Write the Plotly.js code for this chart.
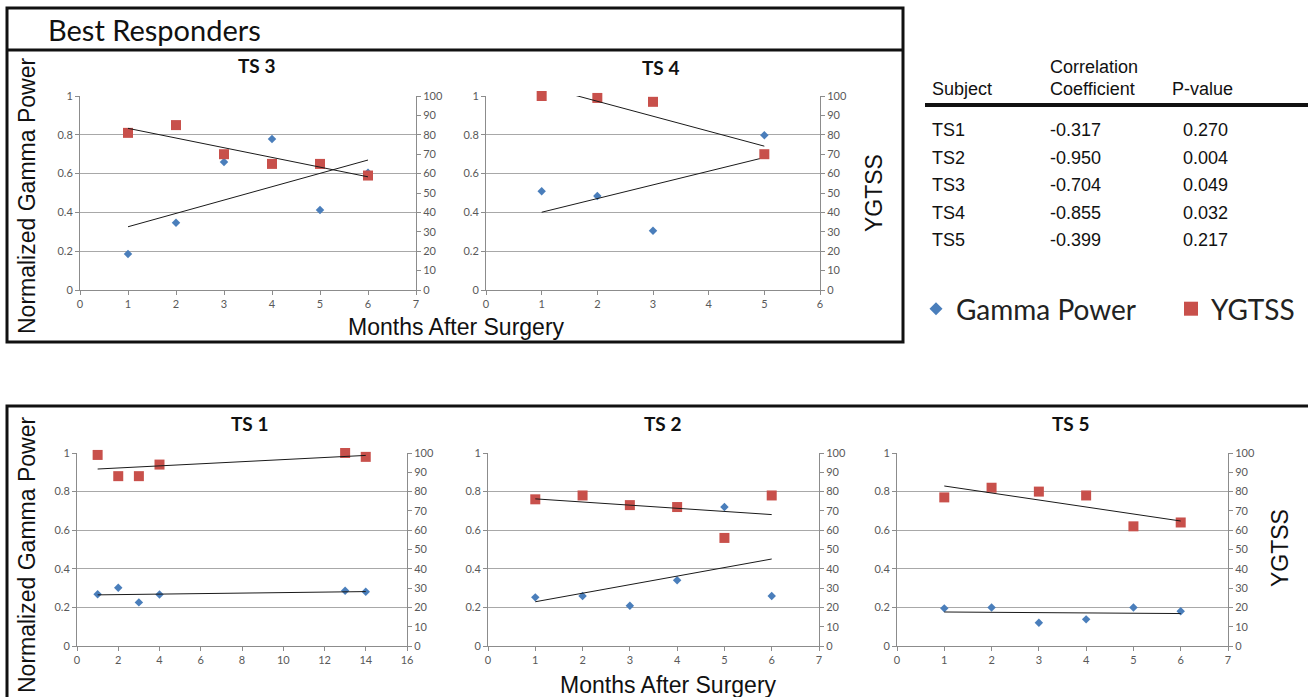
<!DOCTYPE html>
<html>
<head>
<meta charset="utf-8">
<script src="https://cdn.plot.ly/plotly-3.0.1.min.js"></script>
<style>html,body{margin:0;padding:0;background:#fff;}#chart{width:1308px;height:697px;}</style>
</head>
<body>
<div id="chart"></div>
<script>
// ---------- DATA ----------
const ts3Months = [1, 2, 3, 4, 5, 6];
const ts3Gamma  = [0.186, 0.347, 0.66, 0.778, 0.412, 0.605];
const ts3Ygtss  = [81, 85, 70, 65, 65, 59];

const ts4Months = [1, 2, 3, 5];
const ts4Gamma  = [0.509, 0.485, 0.305, 0.798];
const ts4Ygtss  = [100, 99, 97, 70];

const ts1Months = [1, 2, 3, 4, 13, 14];
const ts1Gamma  = [0.268, 0.302, 0.226, 0.267, 0.286, 0.281];
const ts1Ygtss  = [99, 88, 88, 94, 100, 98];

const ts2Months = [1, 2, 3, 4, 5, 6];
const ts2Gamma  = [0.252, 0.259, 0.209, 0.341, 0.72, 0.259];
const ts2Ygtss  = [76, 78, 73, 72, 56, 78];

const ts5Months = [1, 2, 3, 4, 5, 6];
const ts5Gamma  = [0.195, 0.2, 0.12, 0.138, 0.2, 0.18];
const ts5Ygtss  = [77, 82, 80, 78, 62, 64];

const subjectLabels = ['TS1', 'TS2', 'TS3', 'TS4', 'TS5'];
const corrCoefs     = ['-0.317', '-0.950', '-0.704', '-0.855', '-0.399'];
const pValues       = ['0.270', '0.004', '0.049', '0.032', '0.217'];

const gammaTicks = [0, 0.2, 0.4, 0.6, 0.8, 1];

// ---------- LAYOUT HELPERS ----------
const W = 1308, H = 697;
const px = v => v / W;
const py = v => 1 - v / H;

const BLUE = '#4A7EBB';
const RED = '#C8504B';
const AXC = '#8c8c8c';
const GRID = '#a8a8a8';
const TICKFONT = {family: 'Lato, sans-serif', size: 11, color: '#595959'};
const CAL = 'Lato, sans-serif';
const ARIAL = '"Liberation Sans", Arial, sans-serif';

const panels = [
  {title: 'TS 3', months: ts3Months, gamma: ts3Gamma, ygtss: ts3Ygtss, xmax: 7, xdt: 1, box: [80, 416, 96, 290], tx: 256, ty: 65},
  {title: 'TS 4', months: ts4Months, gamma: ts4Gamma, ygtss: ts4Ygtss, xmax: 6, xdt: 1, box: [486, 820, 96, 290], tx: 660, ty: 67},
  {title: 'TS 1', months: ts1Months, gamma: ts1Gamma, ygtss: ts1Ygtss, xmax: 16, xdt: 2, box: [77, 407, 453, 646], tx: 249, ty: 424},
  {title: 'TS 2', months: ts2Months, gamma: ts2Gamma, ygtss: ts2Ygtss, xmax: 7, xdt: 1, box: [488, 819, 453, 646], tx: 662, ty: 424},
  {title: 'TS 5', months: ts5Months, gamma: ts5Gamma, ygtss: ts5Ygtss, xmax: 7, xdt: 1, box: [897, 1228, 453, 646], tx: 1070, ty: 424}
];

function linFit(xs, ys) {
  const n = xs.length;
  const mx = xs.reduce((a, b) => a + b, 0) / n;
  const my = ys.reduce((a, b) => a + b, 0) / n;
  let sxy = 0, sxx = 0;
  for (let i = 0; i < n; i++) { sxy += (xs[i] - mx) * (ys[i] - my); sxx += (xs[i] - mx) ** 2; }
  const b = sxy / sxx, a = my - b * mx;
  const x0 = Math.min(...xs), x1 = Math.max(...xs);
  return {x: [x0, x1], y: [a + b * x0, a + b * x1]};
}

const traces = [];
const legendStyle = {
  orientation: 'h', yanchor: 'top', xanchor: 'left',
  font: {family: CAL, size: 28, color: '#222'}, bgcolor: 'rgba(0,0,0,0)',
  itemclick: false, itemdoubleclick: false
};
const layout = {
  width: W, height: H,
  margin: {l: 0, r: 0, t: 0, b: 0, autoexpand: false},
  paper_bgcolor: '#fff', plot_bgcolor: 'rgba(0,0,0,0)',
  showlegend: true,
  legend: Object.assign({x: px(916), y: py(284)}, legendStyle),
  legend2: Object.assign({x: px(1171), y: py(284)}, legendStyle),
  shapes: [], annotations: []
};

panels.forEach((p, i) => {
  const k = i + 1;
  const xa = k === 1 ? 'x' : 'x' + k;
  const yP = (2 * k - 1) === 1 ? 'y' : 'y' + (2 * k - 1);
  const yS = 'y' + (2 * k);
  const xKey = k === 1 ? 'xaxis' : 'xaxis' + k;
  const yPKey = (2 * k - 1) === 1 ? 'yaxis' : 'yaxis' + (2 * k - 1);
  const ySKey = 'yaxis' + (2 * k);
  const [x0, x1, y0, y1] = p.box;

  layout[xKey] = {
    domain: [px(x0), px(x1)], anchor: yP, range: [0, p.xmax], dtick: p.xdt, tick0: 0,
    showline: true, linecolor: AXC, linewidth: 1, ticks: 'outside', ticklen: 4, tickcolor: AXC,
    showgrid: false, zeroline: false, tickfont: TICKFONT, fixedrange: true
  };
  layout[yPKey] = {
    domain: [py(y1), py(y0)], anchor: xa, range: [0, 1], tickvals: gammaTicks,
    showline: true, linecolor: AXC, linewidth: 1, ticks: 'outside', ticklen: 4, tickcolor: AXC,
    showgrid: true, gridcolor: GRID, gridwidth: 1, zeroline: false, tickfont: TICKFONT, fixedrange: true
  };
  layout[ySKey] = {
    domain: [py(y1), py(y0)], anchor: xa, overlaying: yP, side: 'right', range: [0, 100], dtick: 10, tick0: 0,
    showline: true, linecolor: AXC, linewidth: 1, ticks: 'outside', ticklen: 4, tickcolor: AXC,
    showgrid: false, zeroline: false, tickfont: TICKFONT, fixedrange: true
  };

  const gFit = linFit(p.months, p.gamma);
  const yFit = linFit(p.months, p.ygtss);

  traces.push({type: 'scatter', mode: 'markers', x: p.months, y: p.gamma, xaxis: xa, yaxis: yP,
    marker: {symbol: 'diamond', size: 6.5, color: BLUE}, cliponaxis: false, showlegend: false, hoverinfo: 'skip'});
  traces.push({type: 'scatter', mode: 'lines', x: gFit.x, y: gFit.y, xaxis: xa, yaxis: yP,
    line: {color: '#1a1a1a', width: 1}, showlegend: false, hoverinfo: 'skip'});
  traces.push({type: 'scatter', mode: 'markers', x: p.months, y: p.ygtss, xaxis: xa, yaxis: yS,
    marker: {symbol: 'square', size: 10, color: RED}, cliponaxis: false, showlegend: false, hoverinfo: 'skip'});
  traces.push({type: 'scatter', mode: 'lines', x: yFit.x, y: yFit.y, xaxis: xa, yaxis: yS,
    line: {color: '#1a1a1a', width: 1}, showlegend: false, hoverinfo: 'skip'});

  layout.annotations.push({xref: 'paper', yref: 'paper', x: px(p.tx), y: py(p.ty), text: '<b>' + p.title + '</b>',
    showarrow: false, xanchor: 'center', yanchor: 'middle', font: {family: CAL, size: 19, color: '#111'}});
});

// legend-only entries
traces.push({type: 'scatter', mode: 'markers', x: [null], y: [null], xaxis: 'x', yaxis: 'y', name: 'Gamma Power',
  marker: {symbol: 'diamond', size: 10, color: BLUE}, showlegend: true, legend: 'legend', hoverinfo: 'skip'});
traces.push({type: 'scatter', mode: 'markers', x: [null], y: [null], xaxis: 'x', yaxis: 'y2', name: 'YGTSS',
  marker: {symbol: 'square', size: 14, color: RED}, showlegend: true, legend: 'legend2', hoverinfo: 'skip'});

// frames
const LINE = {color: '#111', width: 3};
layout.shapes.push({type: 'rect', xref: 'paper', yref: 'paper', x0: px(7), x1: px(903), y0: py(342), y1: py(8), line: LINE});
layout.shapes.push({type: 'line', xref: 'paper', yref: 'paper', x0: px(7), x1: px(903), y0: py(50), y1: py(50), line: LINE});
layout.shapes.push({type: 'rect', xref: 'paper', yref: 'paper', x0: px(7), x1: px(1320), y0: py(710), y1: py(406), line: LINE});
layout.shapes.push({type: 'line', xref: 'paper', yref: 'paper', x0: px(925), x1: px(1308), y0: py(105), y1: py(105), line: {color: '#111', width: 4}});

// titles
const ann = (text, x, y, size, family, opts) => Object.assign({xref: 'paper', yref: 'paper', x: px(x), y: py(y), text: text,
  showarrow: false, font: {family: family, size: size, color: '#111'}, xanchor: 'center', yanchor: 'middle'}, opts || {});

layout.annotations.push(ann('Best Responders', 46, 29, 29, CAL, {xanchor: 'left'}));
layout.annotations.push(ann('Normalized Gamma Power', 27, 196, 23, ARIAL, {textangle: -90}));
layout.annotations.push(ann('Normalized Gamma Power', 27, 555, 23, ARIAL, {textangle: -90}));
layout.annotations.push(ann('Months After Surgery', 456, 327, 23, ARIAL));
layout.annotations.push(ann('Months After Surgery', 668, 685, 23, ARIAL));
layout.annotations.push(ann('YGTSS', 874, 193, 23, ARIAL, {textangle: -90}));
layout.annotations.push(ann('YGTSS', 1280, 548, 23, ARIAL, {textangle: -90}));

// table
const TF = 18;
layout.annotations.push(ann('Correlation', 1048, 67, TF, ARIAL, {xanchor: 'left'}));
layout.annotations.push(ann('Subject', 930, 89, TF, ARIAL, {xanchor: 'left'}));
layout.annotations.push(ann('Coefficient', 1048, 89, TF, ARIAL, {xanchor: 'left'}));
layout.annotations.push(ann('P-value', 1170, 89, TF, ARIAL, {xanchor: 'left'}));
const rowY = [130, 157.5, 185, 212.5, 240];
subjectLabels.forEach((s, i) => {
  layout.annotations.push(ann(s, 930, rowY[i], TF, ARIAL, {xanchor: 'left'}));
  layout.annotations.push(ann(corrCoefs[i], 1048, rowY[i], TF, ARIAL, {xanchor: 'left'}));
  layout.annotations.push(ann(pValues[i], 1181, rowY[i], TF, ARIAL, {xanchor: 'left'}));
});

Plotly.newPlot('chart', traces, layout, {staticPlot: true, displayModeBar: false});
</script>
</body>
</html>
